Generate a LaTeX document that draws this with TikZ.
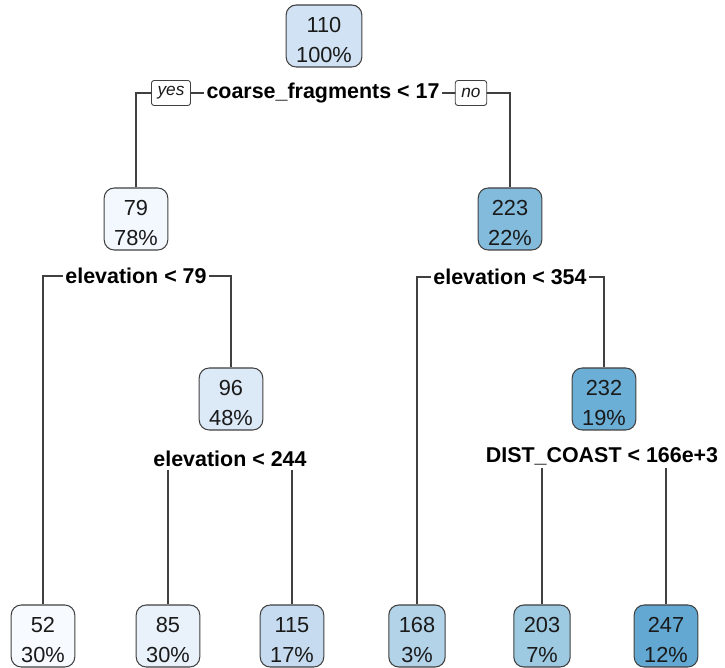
\documentclass[tikz,border=0pt]{standalone}
\usepackage{fontspec}
\setmainfont{Liberation Sans}
\usepackage{xcolor}
\usepackage{tikz}
\usetikzlibrary{backgrounds}
\definecolor{ink}{HTML}{1A1A1A}
\definecolor{rim}{HTML}{404040}
\definecolor{fillA}{HTML}{D0E2F3}
\definecolor{fillB}{HTML}{F2F8FE}
\definecolor{fillC}{HTML}{82BBDB}
\definecolor{fillD}{HTML}{DCE9F6}
\definecolor{fillE}{HTML}{6BAED6}
\definecolor{fillF}{HTML}{F7FBFF}
\definecolor{fillG}{HTML}{E9F2FB}
\definecolor{fillH}{HTML}{C6DBEF}
\definecolor{fillI}{HTML}{B3D3E9}
\definecolor{fillJ}{HTML}{9ECAE1}
\definecolor{fillK}{HTML}{62A8D2}
\tikzset{
  leafbox/.style={draw=rim,line width=0.6pt,rounded corners=0.2cm,
                  align=center,text=ink,inner xsep=0.2cm,inner ysep=0pt,
                  minimum width=1.1cm,minimum height=1.24cm,
                  text height=30pt,text depth=0pt,
                  font=\fontsize{12.4}{17}\selectfont},
  splitlab/.style={fill=white,text=black,inner xsep=1.5pt,inner ysep=2pt,
                   font=\fontsize{12.2}{14}\selectfont\bfseries},
  yesno/.style={draw=rim,fill=white,line width=0.5pt,rounded corners=1.5pt,
                inner xsep=3.5pt,minimum height=0.5cm,text=ink,
                font=\fontsize{9.8}{11}\selectfont\itshape},
  branch/.style={draw=rim,line width=0.7pt},
}
\begin{document}
\begin{tikzpicture}[x=0.02cm,y=-0.02cm]
  \useasboundingbox (0,0) rectangle (725,668);

  % root and first split
  \node[leafbox,fill=fillA] (n110) at (324,36) {110\\100\%};
  \node[splitlab] (s110) at (323,93) {coarse\_fragments < 17};
  \node[yesno] (yes) at (171,93) {yes};
  \node[yesno] (no) at (471,93) {no};

  % second row
  \node[leafbox,fill=fillB] (n79) at (136,219) {79\\78\%};
  \node[leafbox,fill=fillC] (n223) at (510,219) {223\\22\%};
  \node[splitlab] (s79) at (136,276) {elevation < 79};
  \node[splitlab] (s223) at (510,277) {elevation < 354};

  % third row
  \node[leafbox,fill=fillD] (n96) at (231,399) {96\\48\%};
  \node[leafbox,fill=fillE] (n232) at (604,399) {232\\19\%};
  \node[splitlab] (s96) at (230,459) {elevation < 244};
  \node[splitlab] (s232) at (602,456) {DIST\_COAST < 166e+3};

  % leaves
  \node[leafbox,fill=fillF] (n52) at (43,636) {52\\30\%};
  \node[leafbox,fill=fillG] (n85) at (168,636) {85\\30\%};
  \node[leafbox,fill=fillH] (n115) at (292,636) {115\\17\%};
  \node[leafbox,fill=fillI] (n168) at (417,636) {168\\3\%};
  \node[leafbox,fill=fillJ] (n203) at (542,636) {203\\7\%};
  \node[leafbox,fill=fillK] (n247) at (666,636) {247\\12\%};

  % branches under the labels
  \begin{scope}[on background layer]
    \draw[branch] (n79.north) |- (s110.center) -| (n223.north);
    \draw[branch] (n52.north) |- (s79.center) -| (n96.north);
    \draw[branch] (n168.north) |- (s223.center) -| (n232.north);
    \draw[branch] (n85.north) |- (s96.center) -| (n115.north);
    \draw[branch] (n203.north) |- (s232.center) -| (n247.north);
  \end{scope}
\end{tikzpicture}
\end{document}
